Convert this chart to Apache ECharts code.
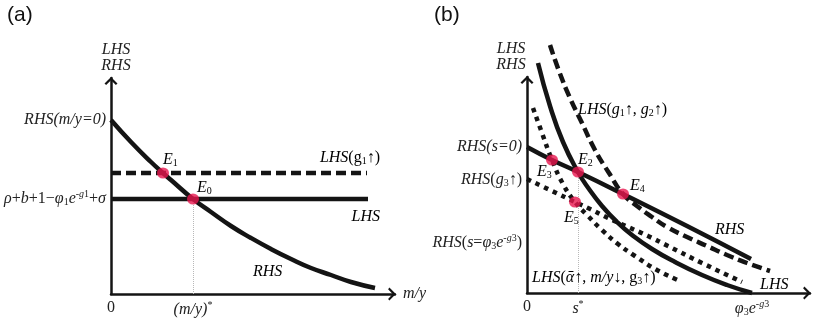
<!DOCTYPE html>
<html>
<head>
<meta charset="utf-8">
<script src="https://cdn.jsdelivr.net/npm/echarts@6/dist/echarts.min.js"></script>
<style>
  html, body { margin: 0; padding: 0; background: #fff; }
  #chart { width: 822px; height: 322px; }
</style>
</head>
<body>
<div id="chart"></div>
<script>
// (a) x = m/y, y = LHS / RHS, schematic units
const rhsA = [[0, 174], [20, 152], [40, 132], [52, 121], [60, 114], [82, 95], [100, 82], [120, 68],
  [140, 56], [160, 45], [180, 35], [200, 26], [220, 19], [240, 12], [264, 6]];
const lhsA = [[0, 95], [257, 95]];
const lhsUpA = [[0, 121], [256, 121]];
const eqA = [[52, 121], [82, 95]]; // E1, E0

// (b) x = s
const lhsB = [[11, 230], [23, 187], [36, 151], [51, 121], [62, 104], [75, 87], [90, 71], [105, 58],
  [125, 44], [148, 31], [175, 18], [200, 8], [225, 0]];
const lhsUpB = [[23, 248], [32, 222], [43, 195], [55, 170], [68, 143], [82, 120], [96, 99], [110, 87],
  [125, 76], [140, 66], [160, 56], [180, 47], [200, 38], [220, 30], [243, 22]];
const lhsLowB = [[6, 185], [15, 160], [25, 133], [36, 109], [48, 91], [61, 77], [75, 63], [91, 49],
  [108, 37], [130, 23], [153, 12]];
const rhsB = [[0, 146], [25, 133], [51, 121], [96, 99], [160, 67], [224, 34]];
const rhsG3B = [[0, 114], [25, 102], [48, 91], [61, 85], [81, 75], [101, 66], [121, 57], [141, 47],
  [175, 30], [215, 11]];
const eqB = [[51, 121], [25, 133], [96, 99], [48, 91]]; // E2, E3, E4, E5

// tick labels
const xTicksA = [0, 82];
const xLabelsA = ['{r|0}', '{i|(m/y)}{sup|*}'];
const yTicksA = [174, 95];
const yLabelsA = ['{i|RHS(m/y=0)}', '{i|ρ}{r|+}{i|b}{r|+1−}{i|φ}{sub|1}{i|e}{sup|-}{isup|g}{sup|1}{r|+}{i|σ}'];
const xTicksB = [0, 51, 225];
const xLabelsB = ['{r|0}', '{i|s}{sup|*}', '{i|φ}{sub|3}{i|e}{sup|-}{isup|g}{sup|3}'];
const yTicksB = [146, 113, 50];
const yLabelsB = ['{i|RHS(s=0)}', '{i|RHS}{r|(}{i|g}{sub|3}{r|↑)}',
  '{i|RHS}{r|(}{i|s}{r|=}{i|φ}{sub|3}{i|e}{sup|-}{isup|g}{sup|3}{r|)}'];

const serif = '"Liberation Serif", "Times New Roman", serif';
const ink = '#141414';
const rich = {
  i: { fontFamily: serif, fontStyle: 'italic', fontSize: 16, color: '#222' },
  r: { fontFamily: serif, fontSize: 16, color: '#222' },
  sub: { fontFamily: serif, fontSize: 10, color: '#222', padding: [7, 0, 0, 0] },
  sup: { fontFamily: serif, fontSize: 10, color: '#222', padding: [0, 0, 9, 0] },
  isup: { fontFamily: serif, fontStyle: 'italic', fontSize: 10, color: '#222', padding: [0, 0, 9, 0] }
};
const arrow = 'path://M10 0L20 10L17.5 12L10 5L2.5 12L0 10Z';

function axisLineStyle() {
  return {
    show: true,
    lineStyle: { color: ink, width: 2.5 },
    symbol: ['none', arrow],
    symbolSize: [13, 7.8],
    symbolOffset: [0, -3]
  };
}

function xAxisOf(gridIndex, max, ticks, labels, name) {
  return {
    type: 'value', gridIndex, min: 0, max,
    name, nameLocation: 'end', nameGap: 8,
    nameTextStyle: { fontFamily: serif, fontStyle: 'italic', fontSize: 16, color: '#222' },
    axisLine: axisLineStyle(),
    axisTick: { show: false },
    splitLine: { show: false },
    axisLabel: {
      customValues: ticks, margin: 6, rich,
      formatter: v => labels[ticks.indexOf(v)] || ''
    }
  };
}

function yAxisOf(gridIndex, max, ticks, labels, namePad) {
  return {
    type: 'value', gridIndex, min: 0, max,
    name: 'LHS\nRHS', nameLocation: 'end', nameGap: 4,
    nameTextStyle: { fontFamily: serif, fontStyle: 'italic', fontSize: 16, color: '#222', lineHeight: 16, padding: namePad },
    axisLine: axisLineStyle(),
    axisTick: { show: false },
    splitLine: { show: false },
    axisLabel: {
      customValues: ticks, margin: 5, rich,
      formatter: v => labels[ticks.indexOf(v)] || ''
    }
  };
}

function curve(idx, data, type, smooth) {
  return {
    type: 'line', xAxisIndex: idx, yAxisIndex: idx, data,
    showSymbol: false, smooth: smooth, clip: false, silent: true,
    lineStyle: { color: ink, width: 4.5, type: type || 'solid', cap: 'butt' },
    z: 3
  };
}

function dots(idx, data, guide) {
  return {
    type: 'scatter', xAxisIndex: idx, yAxisIndex: idx, data,
    symbolSize: [12, 11], itemStyle: { color: '#e8174f' }, z: 10, silent: true,
    markLine: {
      silent: true, symbol: 'none', label: { show: false },
      lineStyle: { type: 'dotted', color: '#b8b8b8', width: 1 },
      data: [[{ coord: [guide[0], 0] }, { coord: guide }]],
      z: 1
    }
  };
}

function txt(x, y, text, align) {
  return {
    type: 'text', x, y, z: 20, silent: true,
    style: { text, rich, align: align || 'left', verticalAlign: 'middle' }
  };
}

const chart = echarts.init(document.getElementById('chart'), null, { renderer: 'canvas' });

chart.setOption({
  animation: false,
  backgroundColor: '#fff',
  grid: [
    { left: 111, top: 78, width: 284, height: 216 },
    { left: 527, top: 77, width: 283, height: 216 }
  ],
  xAxis: [
    xAxisOf(0, 284, xTicksA, xLabelsA, 'm/y'),
    xAxisOf(1, 283, xTicksB, xLabelsB, '')
  ],
  yAxis: [
    yAxisOf(0, 216, yTicksA, yLabelsA, [0, 0, 0, 10]),
    yAxisOf(1, 216, yTicksB, yLabelsB, [0, 32, 0, 0])
  ],
  series: [
    curve(0, rhsA, 'solid', true),
    curve(0, lhsA, 'solid', false),
    curve(0, lhsUpA, [10, 5], false),
    dots(0, eqA, eqA[1]),
    curve(1, lhsB, 'solid', true),
    curve(1, lhsUpB, [10, 5], true),
    curve(1, lhsLowB, [4.5, 5], true),
    curve(1, rhsB, 'solid', true),
    curve(1, rhsG3B, [4.5, 5], true),
    dots(1, eqB, eqB[0])
  ],
  graphic: [
    { type: 'text', x: 7, y: 5, style: { text: '(a)', font: '21px "Liberation Sans", Arial, sans-serif', fill: '#111' } },
    { type: 'text', x: 434, y: 5, style: { text: '(b)', font: '21px "Liberation Sans", Arial, sans-serif', fill: '#111' } },
    txt(380, 158, '{i|LHS}{r|(g}{sub|1}{r|↑)}', 'right'),
    txt(380, 217, '{i|LHS}', 'right'),
    txt(163, 160, '{i|E}{sub|1}'),
    txt(197, 188, '{i|E}{sub|0}'),
    txt(253, 272, '{i|RHS}'),
    txt(578, 110, '{i|LHS}{r|(}{i|g}{sub|1}{r|↑, }{i|g}{sub|2}{r|↑)}'),
    txt(578, 160, '{i|E}{sub|2}'),
    txt(537, 172, '{i|E}{sub|3}'),
    txt(630, 186, '{i|E}{sub|4}'),
    txt(564, 218, '{i|E}{sub|5}'),
    txt(715, 230, '{i|RHS}'),
    txt(532, 278, '{i|LHS}{r|(}{i|ᾱ}{r|↑, }{i|m/y}{r|↓, g}{sub|3}{r|↑)}'),
    txt(760, 285, '{i|LHS}')
  ]
});
</script>
</body>
</html>
